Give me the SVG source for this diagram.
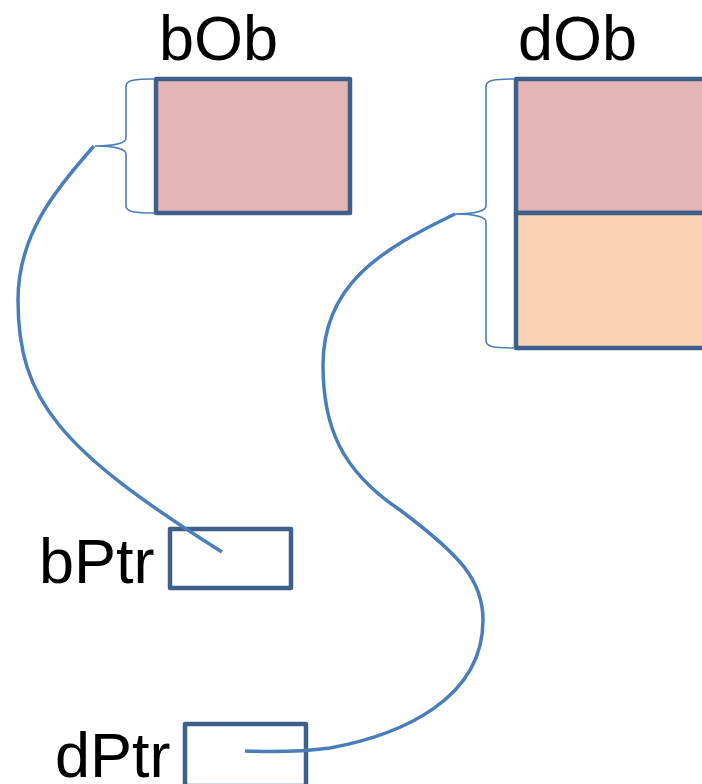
<svg xmlns="http://www.w3.org/2000/svg" width="702" height="784" viewBox="0 0 702 784">
<style>
.box{stroke:#3E5F8A;stroke-width:4.5;stroke-linejoin:round}
.brace{fill:none;stroke:#4A7EBB;stroke-width:1.6}
.conn{fill:none;stroke:#4A7EBB;stroke-width:3.5;stroke-linecap:butt}
.lbl{font-family:"Liberation Sans",Arial,sans-serif;font-size:63px;fill:#000}
</style>
<rect width="702" height="784" fill="#fff"/>
<g id="bOb">
<text class="lbl" x="159" y="60">bOb</text>
<rect class="box" x="156" y="79" width="194" height="134" fill="#E3B5B5"/>
<path class="brace" d="M155,79 C135,79 126,80 126,86 L126,138 C126,143 115,146 95,146 C115,146 126,149 126,154 L126,206 C126,212 135,213 155,213"/>
</g>
<g id="dOb">
<text class="lbl" x="518" y="60">dOb</text>
<rect class="box" x="516" y="79" width="190" height="134" fill="#E3B5B5"/>
<rect class="box" x="516" y="213" width="190" height="135" fill="#F9D3B4"/>
<path class="brace" d="M515,79 C495,79 486,80 486,86 L486,206 C486,211 475,214 455,214 C475,214 486,217 486,222 L486,341 C486,347 495,348 515,348"/>
</g>
<g id="bPtr">
<text class="lbl" x="39" y="583">bPtr</text>
<rect class="box" x="170" y="529" width="121" height="59" fill="none"/>
</g>
<g id="dPtr">
<text class="lbl" x="55" y="777">dPtr</text>
<rect class="box" x="185" y="724" width="121" height="62" fill="none"/>
</g>
<g id="connectors">
<path class="conn" d="M94,146 C55,190 18,235 18,300 C18,400 60,450 222,552"/>
<path class="conn" d="M455,214 C380,250 323,285 323,365 C323,425 340,470 400,510 C460,555 483,580 483,620 C483,700 400,735 330,748 C300,752 270,752 245,751"/>
</g>
</svg>
